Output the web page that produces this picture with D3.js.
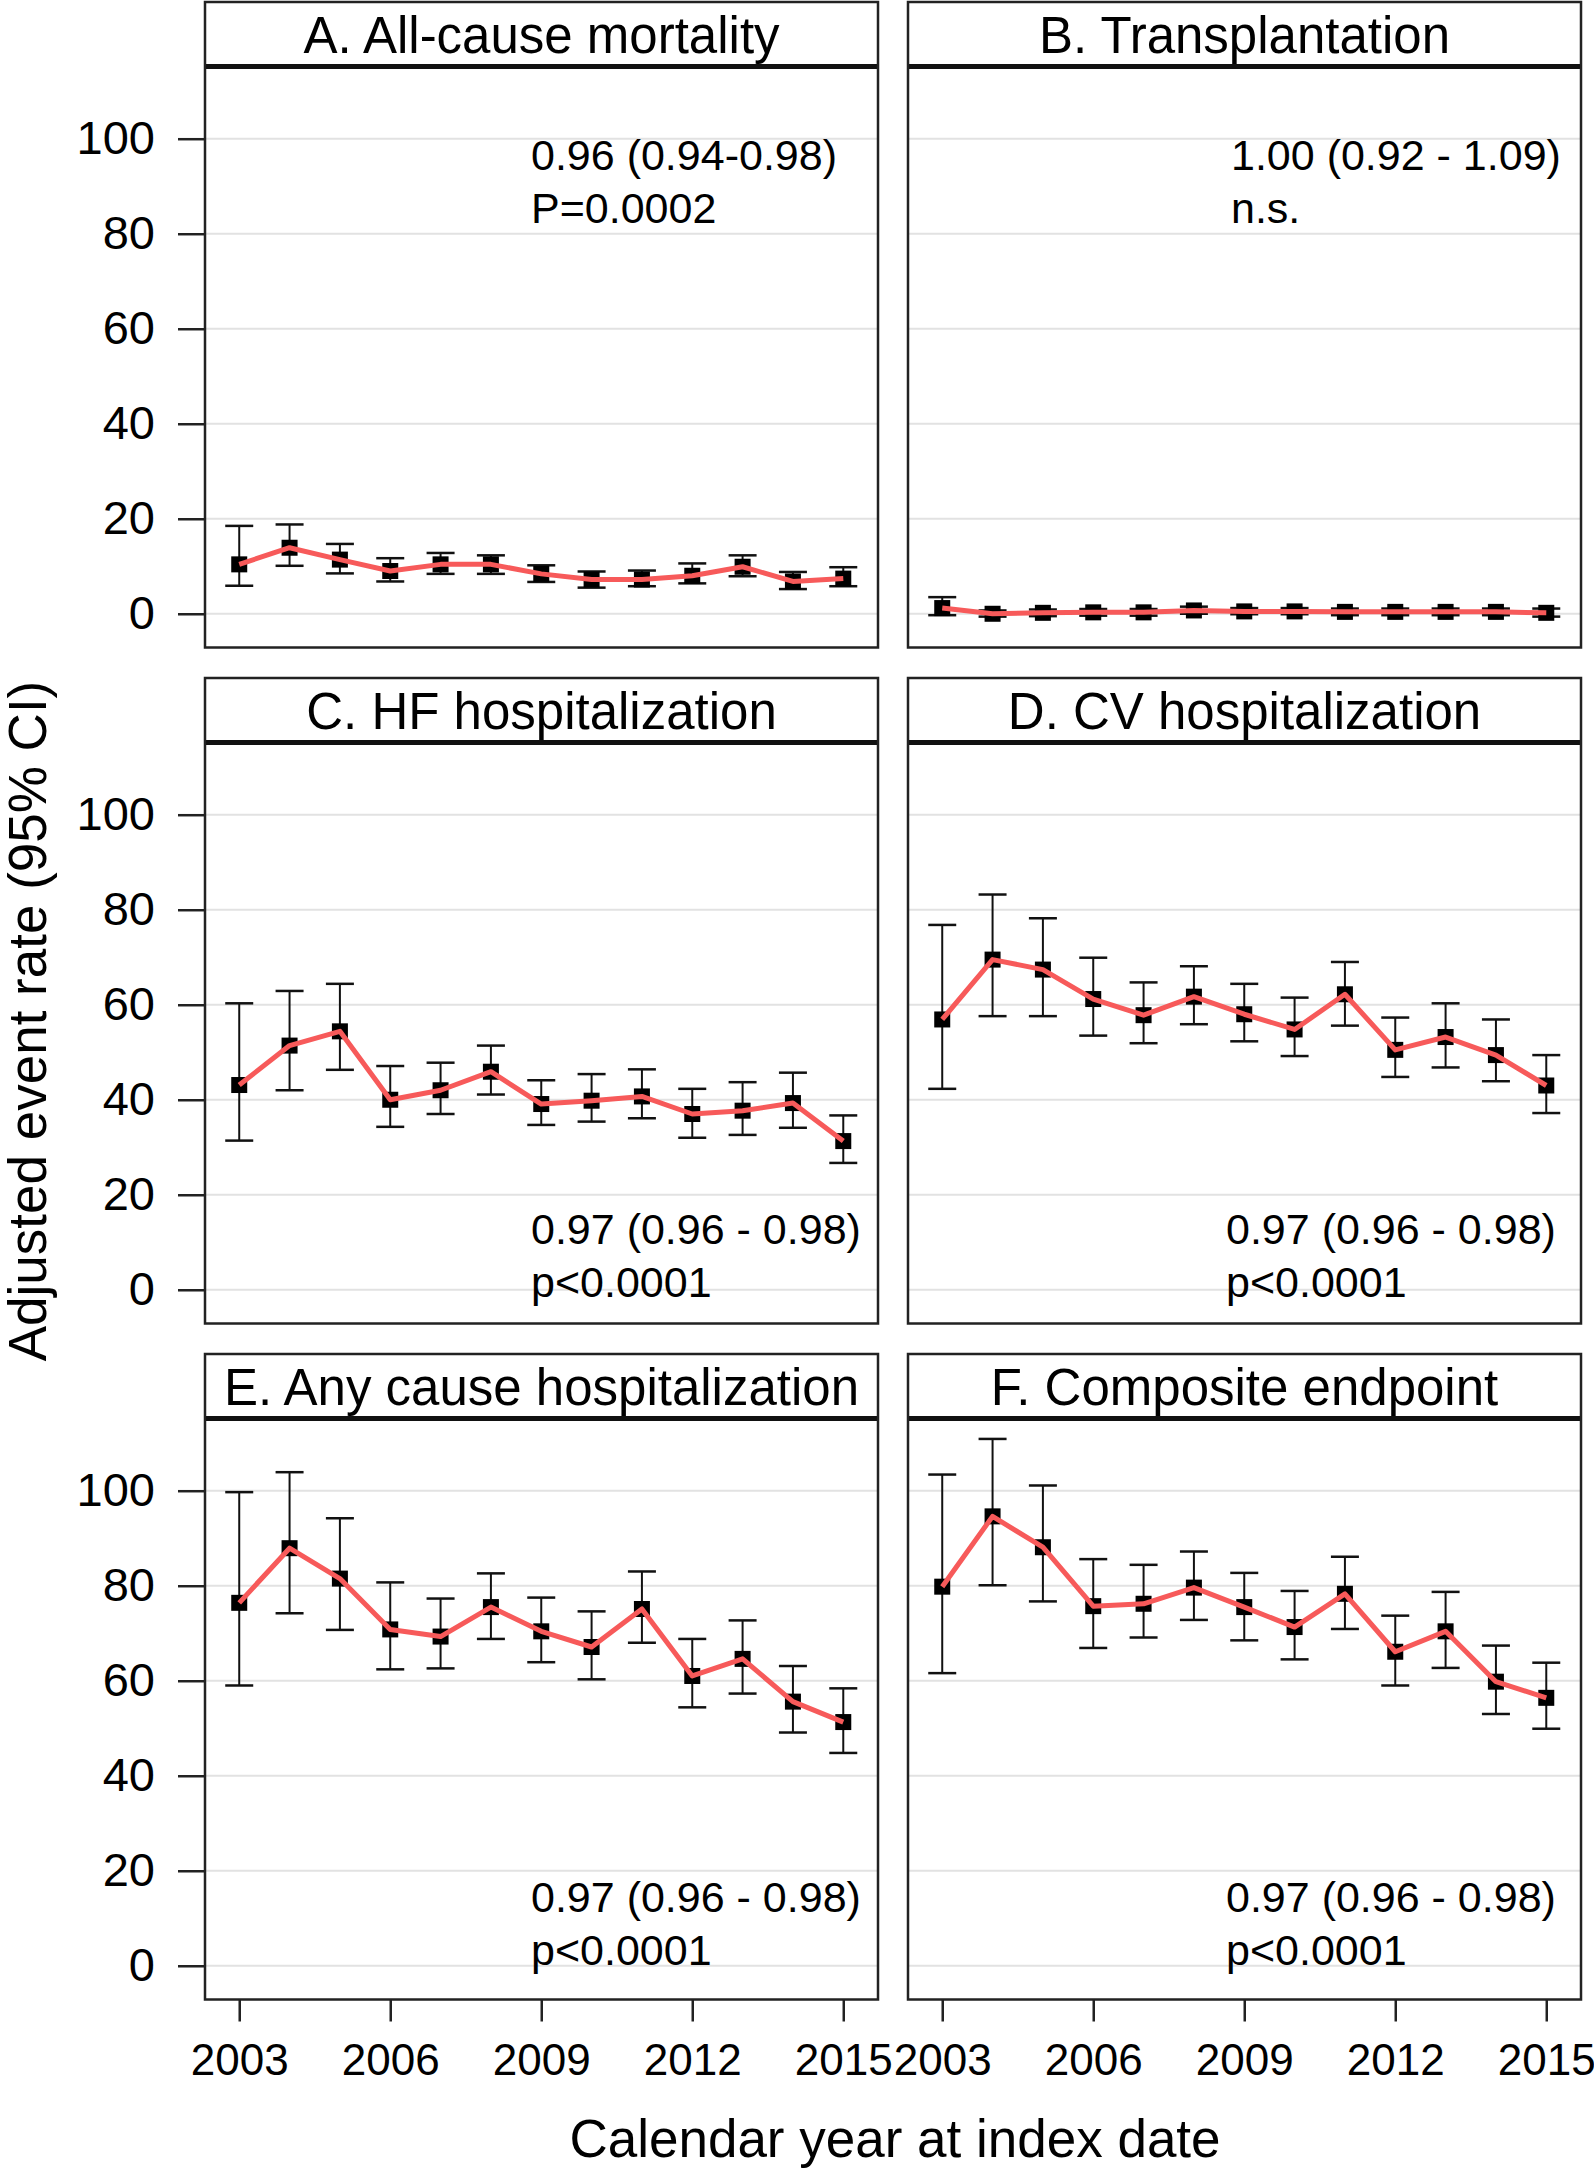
<!DOCTYPE html>
<html><head><meta charset="utf-8">
<script src="https://cdn.jsdelivr.net/npm/d3@7"></script>
<style>
body{margin:0;background:#fff}
text{font-family:"Liberation Sans",Arial,Helvetica,sans-serif;fill:#000}
</style>
</head><body>
<svg id="chart" width="1594" height="2168"></svg>
<script>
// ---------- data ----------
const years = [2003,2004,2005,2006,2007,2008,2009,2010,2011,2012,2013,2014,2015];
const yTicks = [0,20,40,60,80,100];
const xTicks = [2003,2006,2009,2012,2015];

const titles = ["A. All-cause mortality","B. Transplantation","C. HF hospitalization",
                "D. CV hospitalization","E. Any cause hospitalization","F. Composite endpoint"];
const annotations = [
  ["0.96 (0.94-0.98)","P=0.0002"],
  ["1.00 (0.92 - 1.09)","n.s."],
  ["0.97 (0.96 - 0.98)","p<0.0001"],
  ["0.97 (0.96 - 0.98)","p<0.0001"],
  ["0.97 (0.96 - 0.98)","p<0.0001"],
  ["0.97 (0.96 - 0.98)","p<0.0001"]
];

const mortality   = [10.4,13.9,11.4,9.0,10.4,10.4,8.4,7.2,7.2,8.0,9.9,6.8,7.4];
const mortalityLo = [5.9,10.1,8.5,6.8,8.4,8.4,6.7,5.5,5.8,6.4,7.9,5.2,5.8];
const mortalityHi = [18.5,18.8,14.7,11.7,12.8,12.3,10.2,8.9,9.1,10.6,12.3,8.8,9.8];

const transplant   = [1.2,0.0,0.2,0.3,0.3,0.7,0.5,0.5,0.4,0.4,0.4,0.4,0.2];
const transplantLo = [-0.3,-0.6,-0.5,-0.4,-0.4,0.0,-0.1,-0.1,-0.3,-0.3,-0.3,-0.3,-0.6];
const transplantHi = [3.5,0.7,0.9,1.0,1.0,1.5,1.2,1.2,1.1,1.1,1.1,1.1,1.1];

const hfHosp   = [43.1,51.4,54.4,40.0,42.0,45.9,39.1,39.8,40.7,37.0,37.7,39.3,31.3];
const hfHospLo = [31.4,42.0,46.3,34.3,37.0,41.1,34.7,35.4,36.1,32.0,32.6,34.1,26.7];
const hfHospHi = [60.3,62.9,64.4,47.1,47.8,51.4,44.1,45.4,46.4,42.3,43.7,45.7,36.7];

const cvHosp   = [56.9,69.5,67.4,61.2,57.8,61.7,58.0,54.8,62.2,50.5,53.2,49.4,43.0];
const cvHospLo = [42.3,57.6,57.6,53.5,51.9,55.9,52.3,49.2,55.6,44.8,46.8,43.9,37.2];
const cvHospHi = [76.8,83.2,78.2,69.9,64.7,68.1,64.4,61.5,69.0,57.3,60.3,56.9,49.4];

const anyHosp   = [76.4,87.9,81.5,70.8,69.3,75.5,70.4,67.1,75.1,61.0,64.6,55.6,51.3];
const anyHospLo = [59.0,74.2,70.7,62.4,62.6,68.8,63.9,60.3,68.0,54.4,57.3,49.1,44.8];
const anyHospHi = [99.7,103.9,94.2,80.7,77.3,82.6,77.5,74.6,83.0,68.8,72.7,63.1,58.4];

const composite   = [79.8,94.6,88.1,75.7,76.2,79.6,75.5,71.3,78.3,66.1,70.4,59.8,56.4];
const compositeLo = [61.6,80.1,76.7,66.9,69.1,72.8,68.5,64.5,70.9,59.0,62.7,53.0,49.9];
const compositeHi = [103.4,110.9,101.1,85.6,84.4,87.2,82.7,78.9,86.1,73.7,78.7,67.4,63.8];

const estimates = [mortality, transplant, hfHosp, cvHosp, anyHosp, composite];
const lowers    = [mortalityLo, transplantLo, hfHospLo, cvHospLo, anyHospLo, compositeLo];
const uppers    = [mortalityHi, transplantHi, hfHospHi, cvHospHi, anyHospHi, compositeHi];

// ---------- layout ----------
const colX = [205, 908];
const rowY = [2, 678, 1354];
const panelW = 673, stripH = 64.5, plotH = 581;
const annX  = [326, 323, 326, 318, 326, 318];
const annY  = [168, 168, 566, 566, 558, 558];
const annGap = 53;
const red = "#f75a5a";
const mk = 16;

const svg = d3.select("#chart");

const x = d3.scaleLinear().domain([2002.32, 2015.69]).range([0, panelW]);
const y = d3.scaleLinear().domain([-7.1, 115.2]).range([stripH + plotH, stripH]);

titles.forEach((title, i) => {
  const col = i % 2, row = Math.floor(i / 2);
  const g = svg.append("g").attr("transform", `translate(${colX[col]},${rowY[row]})`);
  const est = estimates[i], lo = lowers[i], hi = uppers[i];
  const pts = years.map((yr, k) => ({yr, v: est[k], lo: lo[k], hi: hi[k]}));

  // gridlines
  g.selectAll(".grid").data(yTicks).join("line")
    .attr("x1", 0).attr("x2", panelW)
    .attr("y1", d => y(d)).attr("y2", d => y(d))
    .attr("stroke", "#e2e2e2").attr("stroke-width", 2);

  // error bars
  const eb = g.selectAll(".eb").data(pts).join("g");
  eb.append("line")
    .attr("x1", d => x(d.yr)).attr("x2", d => x(d.yr))
    .attr("y1", d => y(d.lo)).attr("y2", d => y(d.hi))
    .attr("stroke", "#111").attr("stroke-width", 2);
  eb.append("line")
    .attr("x1", d => x(d.yr) - 14).attr("x2", d => x(d.yr) + 14)
    .attr("y1", d => y(d.hi)).attr("y2", d => y(d.hi))
    .attr("stroke", "#111").attr("stroke-width", 2.5);
  eb.append("line")
    .attr("x1", d => x(d.yr) - 14).attr("x2", d => x(d.yr) + 14)
    .attr("y1", d => y(d.lo)).attr("y2", d => y(d.lo))
    .attr("stroke", "#111").attr("stroke-width", 2.5);

  // markers
  g.selectAll(".pt").data(pts).join("rect")
    .attr("x", d => x(d.yr) - mk / 2).attr("y", d => y(d.v) - mk / 2)
    .attr("width", mk).attr("height", mk).attr("fill", "#000");

  // line
  g.append("path").datum(pts)
    .attr("d", d3.line().x(d => x(d.yr)).y(d => y(d.v)))
    .attr("fill", "none").attr("stroke", red).attr("stroke-width", 5)
    .attr("stroke-linejoin", "round");

  // annotation
  const ann = g.append("text").attr("font-size", 43);
  annotations[i].forEach((t, k) => {
    ann.append("tspan").attr("x", annX[i]).attr("y", annY[i] + k * annGap).text(t);
  });

  // strip
  g.append("text").attr("x", panelW / 2).attr("y", 51)
    .attr("text-anchor", "middle").attr("font-size", 51).text(title);
  g.append("line").attr("x1", 0).attr("x2", panelW)
    .attr("y1", stripH).attr("y2", stripH)
    .attr("stroke", "#111").attr("stroke-width", 5);

  // border
  g.append("rect").attr("x", 0).attr("y", 0)
    .attr("width", panelW).attr("height", stripH + plotH)
    .attr("fill", "none").attr("stroke", "#222").attr("stroke-width", 2.5);

  // axes
  if (col === 0) {
    const ay = g.append("g").call(d3.axisLeft(y).tickValues(yTicks).tickSize(27).tickPadding(23));
    ay.select(".domain").remove();
    ay.selectAll("line").attr("stroke", "#222").attr("stroke-width", 2.5);
    ay.selectAll("text").attr("font-size", 47).attr("font-family", null);
  }
  if (row === 2) {
    const ax = g.append("g").attr("transform", `translate(0,${stripH + plotH})`)
      .call(d3.axisBottom(x).tickValues(xTicks).tickFormat(d3.format("d")).tickSize(22).tickPadding(22));
    ax.select(".domain").remove();
    ax.selectAll("line").attr("stroke", "#222").attr("stroke-width", 2.5);
    ax.selectAll("text").attr("font-size", 44).attr("font-family", null);
  }
});

// axis titles
svg.append("text").attr("x", 895).attr("y", 2157)
  .attr("text-anchor", "middle").attr("font-size", 53)
  .text("Calendar year at index date");
svg.append("text").attr("transform", "translate(46,1021) rotate(-90)")
  .attr("text-anchor", "middle").attr("font-size", 53)
  .text("Adjusted event rate (95% CI)");
</script>
</body></html>
